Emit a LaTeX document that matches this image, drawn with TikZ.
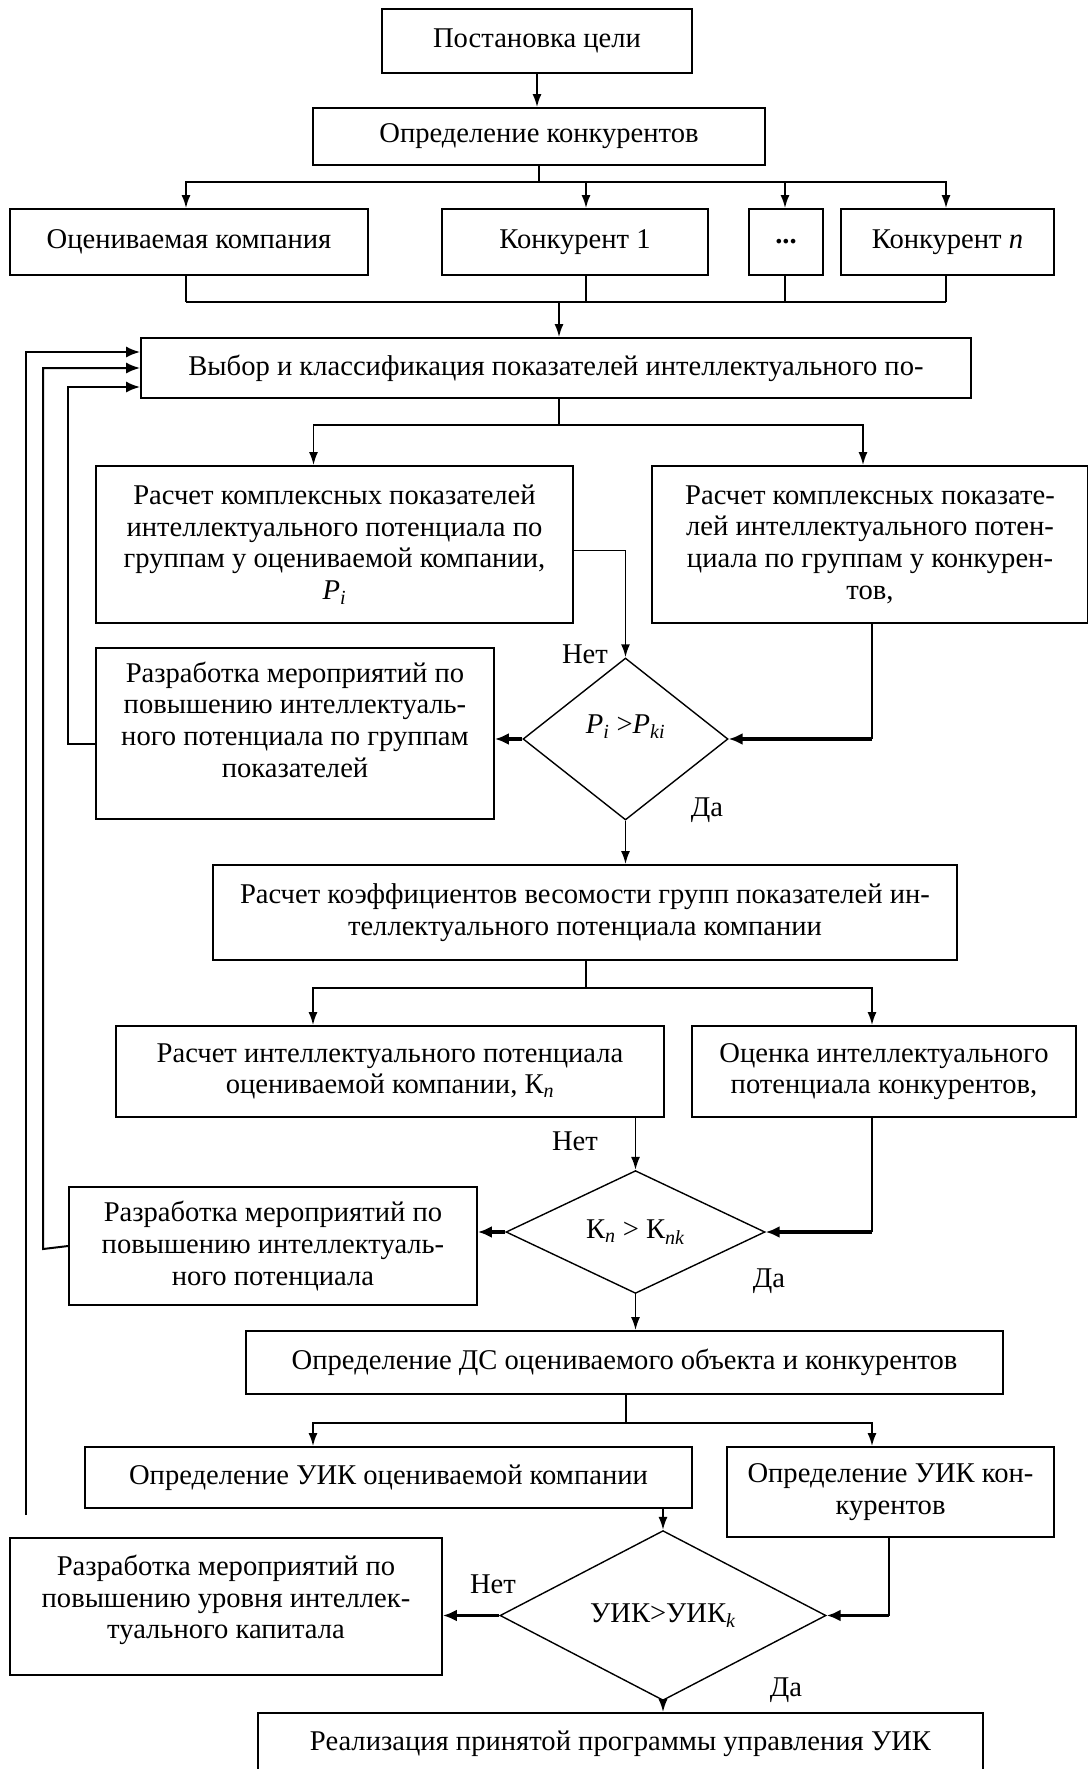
\documentclass[tikz,border=0pt]{standalone}
\usepackage{fontspec}
\setmainfont{Liberation Serif}
\usetikzlibrary{arrows.meta,shapes.geometric}

\begin{document}
\begin{tikzpicture}[
  x=1pt,
  y=-1pt,
  font=\fontsize{28.6pt}{31.6pt}\selectfont,
  box/.style={draw=black,line width=1.8pt,align=center,inner sep=0pt},
  decision/.style={draw=black,line width=1.4pt,diamond,inner sep=0pt,align=center},
  stub/.style={draw=black,line width=1.1pt},
  branch/.style={draw=black,line width=2pt},
  arrow/.style={draw=black,line width=1.8pt,-{Latex[length=13pt,width=9pt]}},
  heavyarrow/.style={draw=black,line width=3.5pt,-{Latex[length=14pt,width=12pt]}},
  feedback/.style={draw=black,line width=2pt,-{Latex[length=14pt,width=11pt]}},
  answer/.style={inner sep=0pt}
]
\useasboundingbox (0,0) rectangle (1087,1769);

% =====================================================================
% Goal, competitors, objects of comparison
% =====================================================================
\node[box,minimum width=310pt,minimum height=64pt] (goal) at (537,41) {Постановка цели};
\node[box,minimum width=452pt,minimum height=57pt] (rivals) at (539,136.5) {Определение конкурентов};

\node[box,minimum width=358pt,minimum height=66pt] (firm) at (189,242) {Оцениваемая компания};
\node[box,minimum width=266pt,minimum height=66pt] (rival1) at (575,242) {Конкурент 1};
\node[box,minimum width=74pt,minimum height=66pt] (dots) at (786,242) {\textbf{...}};
\node[box,minimum width=213pt,minimum height=66pt] (rivaln) at (947.5,242) {Конкурент \textit{n}};

\node[box,minimum width=830pt,minimum height=60pt] (select) at (556,368)
  {Выбор и классификация показателей интеллектуального по-};

\draw[arrow] (goal.south) -- (goal.south |- rivals.north);

\coordinate (split1) at (539,182);
\draw[stub] (rivals.south) -- (split1);
\foreach \n/\dx in {firm/-3,rival1/11,dots/-1,rivaln/-1.5}
  \draw[arrow] (split1) -| ([xshift=\dx pt]\n.north);

\coordinate (merge1) at (559,302);
\foreach \n/\dx in {firm/-3,rival1/11,dots/-1,rivaln/-1.5}
  \draw[stub] ([xshift=\dx pt]\n.south) -- ([xshift=\dx pt]\n.south |- merge1);
\draw[branch] ([xshift=-3pt]firm.south |- merge1) -- ([xshift=-1.5pt]rivaln.south |- merge1);
\draw[arrow] (merge1) -- (merge1 |- select.north);

% =====================================================================
% Complex indicators by groups
% =====================================================================
\node[box,minimum width=477pt,minimum height=157pt] (ownidx) at (334.5,544.5)
  {Расчет комплексных показателей\\интеллектуального потенциала по\\группам у оцениваемой компании,\\\textit{P}\textsubscript{\textit{i}}};
\node[box,minimum width=436pt,minimum height=157pt] (rivalidx) at (870,544.5)
  {Расчет комплексных показате-\\лей интеллектуального потен-\\циала по группам у конкурен-\\тов,};

\node[decision,minimum width=205pt,minimum height=162pt,text depth=30pt] (test1) at (625.5,739)
  {\textit{P}\textsubscript{\textit{i}} >\textit{P}\textsubscript{\textit{ki}}};
\node[box,minimum width=398pt,minimum height=171pt,text depth=28pt] (plan1) at (295,733.5)
  {Разработка мероприятий по\\повышению интеллектуаль-\\ного потенциала по группам\\показателей};
\node[answer] (no1) at (585,654) {Нет};
\node[answer] (yes1) at (707,810) {Да};

\coordinate (split2) at (559,425);
\draw[stub] (split2 |- select.south) -- (split2);
\draw[arrow] (split2) -| ([xshift=-21pt]ownidx.north);
\draw[arrow] (split2) -| ([xshift=-7pt]rivalidx.north);

\draw[arrow] ([yshift=-6pt]ownidx.east) -| (test1.north);
\draw[stub] ([xshift=2pt]rivalidx.south) -- ([xshift=2pt]rivalidx.south |- test1.east);
\draw[heavyarrow] ([xshift=2pt]rivalidx.south |- test1.east) -- (test1.east);
\draw[heavyarrow] (test1.west) -- (plan1.east |- test1.west);

% =====================================================================
% Weights and intellectual potential
% =====================================================================
\node[box,minimum width=744pt,minimum height=95pt] (weights) at (585,912.5)
  {Расчет коэффициентов весомости групп показателей ин-\\теллектуального потенциала компании};
\node[box,minimum width=548pt,minimum height=91pt] (ownK) at (390,1071.5)
  {Расчет интеллектуального потенциала\\оцениваемой компании, К\textsubscript{\textit{n}}};
\node[box,minimum width=384pt,minimum height=91pt] (rivalK) at (884,1071.5)
  {Оценка интеллектуального\\потенциала конкурентов,};

\node[decision,minimum width=259pt,minimum height=120pt] (test2) at (635.5,1232)
  {К\textsubscript{\textit{n}} > К\textsubscript{\textit{nk}}};
\node[box,minimum width=408pt,minimum height=118pt] (plan2) at (273,1246)
  {Разработка мероприятий по\\повышению интеллектуаль-\\ного потенциала};
\node[answer] (no2) at (575,1141) {Нет};
\node[answer] (yes2) at (769,1281) {Да};

\draw[arrow] (test1.south) -- (test1.south |- weights.north);

\coordinate (split3) at (586,988);
\draw[stub] (split3 |- weights.south) -- (split3);
\draw[arrow] (split3) -| ([xshift=-77pt]ownK.north);
\draw[arrow] (split3) -| ([xshift=-12pt]rivalK.north);

\draw[arrow] (test2.north |- ownK.south) -- (test2.north);
\draw[stub] ([xshift=-12pt]rivalK.south) -- ([xshift=-12pt]rivalK.south |- test2.east);
\draw[heavyarrow] ([xshift=-12pt]rivalK.south |- test2.east) -- (test2.east);
\draw[heavyarrow] (test2.west) -- (plan2.east |- test2.west);

% =====================================================================
% Level of intellectual capital
% =====================================================================
\node[box,minimum width=757pt,minimum height=63pt] (ds) at (624.5,1362.5)
  {Определение ДС оцениваемого объекта и конкурентов};
\node[box,minimum width=607pt,minimum height=61pt] (ownuik) at (388.5,1477.5)
  {Определение УИК оцениваемой компании};
\node[box,minimum width=327pt,minimum height=90pt] (rivaluik) at (890.5,1492)
  {Определение УИК кон-\\курентов};

\node[decision,minimum width=326pt,minimum height=121pt] (test3) at (663,1615.5)
  {УИК>УИК\textsubscript{\textit{k}}};
\node[box,minimum width=432pt,minimum height=137pt,text depth=19pt] (plan3) at (226,1606.5)
  {Разработка мероприятий по\\повышению уровня интеллек-\\туального капитала};
\node[answer] (no3) at (493,1584) {Нет};
\node[answer] (yes3) at (786,1690) {Да};

\node[box,minimum width=725pt,minimum height=62pt] (final) at (620.5,1744)
  {Реализация принятой программы управления УИК};

\draw[arrow] (test2.south) -- (test2.south |- ds.north);

\coordinate (split4) at (626,1423);
\draw[stub] (split4 |- ds.south) -- (split4);
\draw[arrow] (split4) -| ([xshift=-75.5pt]ownuik.north);
\draw[arrow] (split4) -| ([xshift=-18.5pt]rivaluik.north);

\draw[arrow] (test3.north |- ownuik.south) -- (test3.north);
\draw[stub] ([xshift=-1.5pt]rivaluik.south) -- ([xshift=-1.5pt]rivaluik.south |- test3.east);
\draw[heavyarrow] ([xshift=-1.5pt]rivaluik.south |- test3.east) -- (test3.east);
\draw[heavyarrow] (test3.west) -- (plan3.east |- test3.west);
\draw[arrow] (test3.south) -- (test3.south |- final.north);

% =====================================================================
% Feedback loops back to the choice of indicators
% =====================================================================
\draw[feedback] ([yshift=-10pt]plan1.west) -- ++(-27,0) |- ([yshift=-19pt]select.west);
\draw[feedback] (plan2.west) -- ++(-25,3) |- (select.west);
\coordinate (loopend) at (26,1515);
\draw[feedback] (loopend) |- ([yshift=16pt]select.west);

\end{tikzpicture}
\end{document}
